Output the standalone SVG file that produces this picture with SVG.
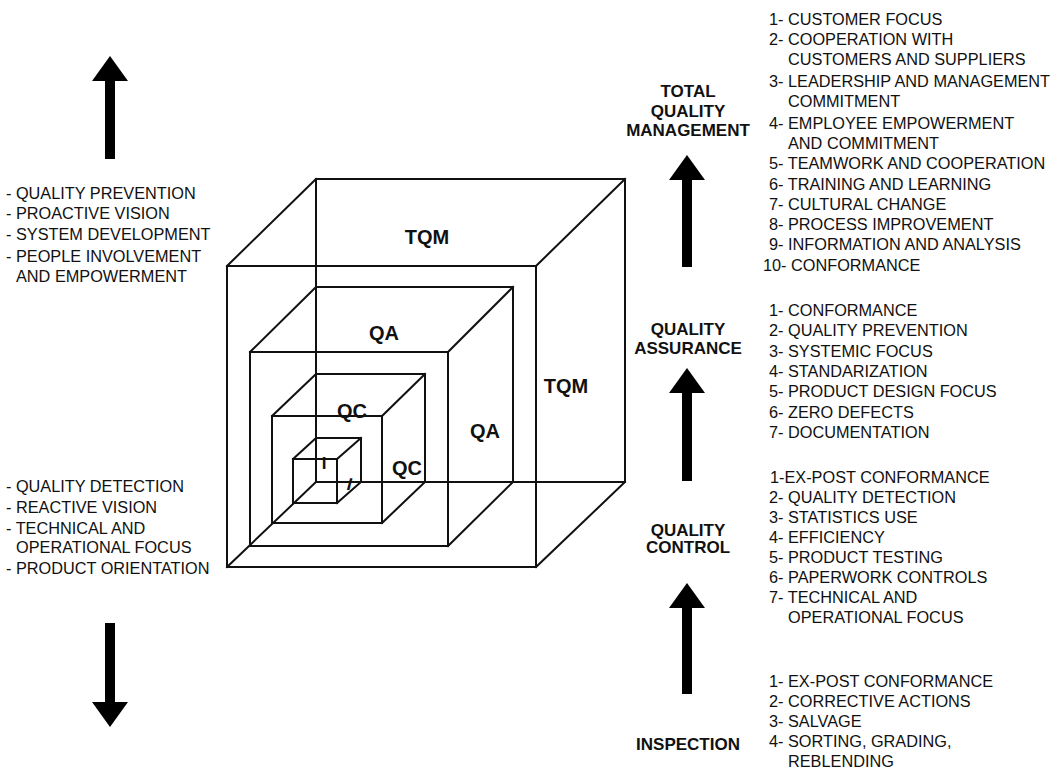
<svg xmlns="http://www.w3.org/2000/svg" width="1057" height="769" viewBox="0 0 1057 769">
<style>
  .edge { fill: none; stroke: #111; stroke-width: 2; stroke-linecap: square; }
  .lst { font-family: "Liberation Sans", Arial, sans-serif; font-size: 16.3px; fill: #111; }
  .lbl { font-family: "Liberation Sans", Arial, sans-serif; font-size: 17px; font-weight: bold; fill: #111; text-anchor: middle; }
  .cl { font-family: "Liberation Sans", Arial, sans-serif; font-size: 20px; font-weight: bold; fill: #111; text-anchor: middle; }
  .arr { stroke: #000; stroke-width: 10; fill: none; }
</style>
<defs>
  <marker id="ah" markerUnits="userSpaceOnUse" markerWidth="26" markerHeight="36" refX="1" refY="18" orient="auto">
    <path d="M0,0 L25,18 L0,36 Z" fill="#000"/>
  </marker>
</defs>
<rect width="1057" height="769" fill="#fff"/>

<g id="cube-shared">
  <path class="edge" d="M316,179 V482 H625 M227,567 L316,482"/>
</g>
<g id="cube-tqm">
  <rect class="edge" x="227" y="266" width="309" height="301"/>
  <path class="edge" d="M316,179 H625 V482 M227,266 L316,179 M536,266 L625,179 M536,567 L625,482"/>
  <text class="cl" x="427" y="244">TQM</text>
  <text class="cl" x="566" y="393">TQM</text>
</g>
<g id="cube-qa">
  <rect class="edge" x="250" y="352" width="198" height="194"/>
  <path class="edge" d="M316,287 H513 V482 M250,352 L316,287 M448,352 L513,287 M448,546 L513,482"/>
  <text class="cl" x="384" y="340">QA</text>
  <text class="cl" x="485" y="438">QA</text>
</g>
<g id="cube-qc">
  <rect class="edge" x="272" y="416" width="110" height="107"/>
  <path class="edge" d="M316,374 H425 V482 M272,416 L316,374 M382,416 L425,374 M382,523 L425,482"/>
  <text class="cl" x="352" y="418">QC</text>
  <text class="cl" x="407" y="475">QC</text>
</g>
<g id="cube-i">
  <rect class="edge" x="293" y="459" width="44" height="44"/>
  <path class="edge" d="M316,438 H361 V482 M293,459 L316,438 M337,459 L361,438 M337,503 L361,482"/>
  <text class="lbl" x="324" y="469">I</text>
  <text class="lbl" x="0" y="0" transform="translate(348,490) skewX(-15)">I</text>
</g>

<g id="connectors">
  <line class="arr" x1="110" y1="159" x2="110" y2="80" marker-end="url(#ah)"/>
  <line class="arr" x1="110" y1="623" x2="110" y2="703" marker-end="url(#ah)"/>
  <line class="arr" x1="687" y1="267" x2="687" y2="179" marker-end="url(#ah)"/>
  <line class="arr" x1="687" y1="481" x2="687" y2="392" marker-end="url(#ah)"/>
  <line class="arr" x1="687" y1="694" x2="687" y2="607" marker-end="url(#ah)"/>
</g>

<g id="label-tqm">
  <text class="lbl" x="688" y="97">TOTAL</text>
  <text class="lbl" x="688" y="117">QUALITY</text>
  <text class="lbl" x="688" y="136">MANAGEMENT</text>
</g>
<g id="label-qa">
  <text class="lbl" x="688" y="335">QUALITY</text>
  <text class="lbl" x="688" y="354">ASSURANCE</text>
</g>
<g id="label-qc">
  <text class="lbl" x="688" y="536">QUALITY</text>
  <text class="lbl" x="688" y="553">CONTROL</text>
</g>
<g id="label-inspection">
  <text class="lbl" x="688" y="750">INSPECTION</text>
</g>

<g id="list-tqm" class="lst">
  <text x="769" y="25">1- CUSTOMER FOCUS</text>
  <text x="769" y="45">2- COOPERATION WITH</text>
  <text x="788" y="65">CUSTOMERS AND SUPPLIERS</text>
  <text x="769" y="87">3- LEADERSHIP AND MANAGEMENT</text>
  <text x="788" y="107">COMMITMENT</text>
  <text x="769" y="129">4- EMPLOYEE EMPOWERMENT</text>
  <text x="788" y="149">AND COMMITMENT</text>
  <text x="769" y="169">5- TEAMWORK AND COOPERATION</text>
  <text x="769" y="190">6- TRAINING AND LEARNING</text>
  <text x="769" y="210">7- CULTURAL CHANGE</text>
  <text x="769" y="230">8- PROCESS IMPROVEMENT</text>
  <text x="769" y="250">9- INFORMATION AND ANALYSIS</text>
  <text x="763" y="271">10- CONFORMANCE</text>
</g>
<g id="list-qa" class="lst">
  <text x="769" y="316">1- CONFORMANCE</text>
  <text x="769" y="336">2- QUALITY PREVENTION</text>
  <text x="769" y="357">3- SYSTEMIC FOCUS</text>
  <text x="769" y="377">4- STANDARIZATION</text>
  <text x="769" y="397">5- PRODUCT DESIGN FOCUS</text>
  <text x="769" y="418">6- ZERO DEFECTS</text>
  <text x="769" y="438">7- DOCUMENTATION</text>
</g>
<g id="list-qc" class="lst">
  <text x="770" y="483">1-EX-POST CONFORMANCE</text>
  <text x="769" y="503">2- QUALITY DETECTION</text>
  <text x="769" y="523">3- STATISTICS USE</text>
  <text x="769" y="543">4- EFFICIENCY</text>
  <text x="769" y="563">5- PRODUCT TESTING</text>
  <text x="769" y="583">6- PAPERWORK CONTROLS</text>
  <text x="769" y="603">7- TECHNICAL AND</text>
  <text x="788" y="623">OPERATIONAL FOCUS</text>
</g>
<g id="list-inspection" class="lst">
  <text x="769" y="687">1- EX-POST CONFORMANCE</text>
  <text x="769" y="707">2- CORRECTIVE ACTIONS</text>
  <text x="769" y="727">3- SALVAGE</text>
  <text x="769" y="747">4- SORTING, GRADING,</text>
  <text x="788" y="767">REBLENDING</text>
</g>
<g id="list-upper-left" class="lst">
  <text x="6" y="199">- QUALITY PREVENTION</text>
  <text x="6" y="219">- PROACTIVE VISION</text>
  <text x="6" y="240">- SYSTEM DEVELOPMENT</text>
  <text x="6" y="262">- PEOPLE INVOLVEMENT</text>
  <text x="16" y="282">AND EMPOWERMENT</text>
</g>
<g id="list-lower-left" class="lst">
  <text x="6" y="492">- QUALITY DETECTION</text>
  <text x="6" y="513">- REACTIVE VISION</text>
  <text x="6" y="534">- TECHNICAL AND</text>
  <text x="16" y="553">OPERATIONAL FOCUS</text>
  <text x="6" y="574">- PRODUCT ORIENTATION</text>
</g>
</svg>
